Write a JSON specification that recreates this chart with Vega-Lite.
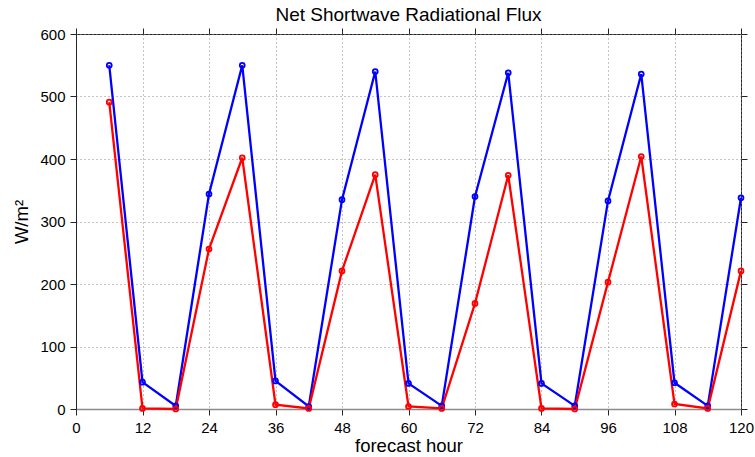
{
  "$schema": "https://vega.github.io/schema/vega-lite/v6.json",
  "width": 665,
  "height": 375,
  "autosize": "none",
  "padding": {"left": 76, "top": 34, "right": 14, "bottom": 48},
  "background": "white",
  "config": {
    "font": "Liberation Sans",
    "view": {"stroke": "#262626", "strokeWidth": 1},
    "axis": {
      "labelFont": "Liberation Sans",
      "titleFont": "Liberation Sans",
      "labelFontSize": 15,
      "titleFontSize": 18.5,
      "titleFontWeight": "normal",
      "labelColor": "black",
      "titleColor": "black",
      "domainColor": "#262626",
      "tickColor": "#262626",
      "tickSize": 6,
      "labelFlush": false,
      "labelOverlap": false,
      "gridColor": "#8a8a8a",
      "gridDash": [1, 3],
      "gridOpacity": 1
    }
  },
  "title": {
    "text": "Net Shortwave Radiational Flux",
    "font": "Liberation Sans",
    "fontSize": 19,
    "fontWeight": "normal",
    "color": "black",
    "offset": 2
  },
  "data": {
    "values": [
      {"hour": 6, "flux": 550, "series": "run_a"},
      {"hour": 12, "flux": 43, "series": "run_a"},
      {"hour": 18, "flux": 5, "series": "run_a"},
      {"hour": 24, "flux": 344, "series": "run_a"},
      {"hour": 30, "flux": 550, "series": "run_a"},
      {"hour": 36, "flux": 45, "series": "run_a"},
      {"hour": 42, "flux": 4, "series": "run_a"},
      {"hour": 48, "flux": 335, "series": "run_a"},
      {"hour": 54, "flux": 540, "series": "run_a"},
      {"hour": 60, "flux": 41, "series": "run_a"},
      {"hour": 66, "flux": 5, "series": "run_a"},
      {"hour": 72, "flux": 340, "series": "run_a"},
      {"hour": 78, "flux": 538, "series": "run_a"},
      {"hour": 84, "flux": 41, "series": "run_a"},
      {"hour": 90, "flux": 5, "series": "run_a"},
      {"hour": 96, "flux": 333, "series": "run_a"},
      {"hour": 102, "flux": 536, "series": "run_a"},
      {"hour": 108, "flux": 42, "series": "run_a"},
      {"hour": 114, "flux": 5, "series": "run_a"},
      {"hour": 120, "flux": 338, "series": "run_a"},
      {"hour": 6, "flux": 491, "series": "run_b"},
      {"hour": 12, "flux": 1, "series": "run_b"},
      {"hour": 18, "flux": 0, "series": "run_b"},
      {"hour": 24, "flux": 256, "series": "run_b"},
      {"hour": 30, "flux": 402, "series": "run_b"},
      {"hour": 36, "flux": 7, "series": "run_b"},
      {"hour": 42, "flux": 1, "series": "run_b"},
      {"hour": 48, "flux": 221, "series": "run_b"},
      {"hour": 54, "flux": 375, "series": "run_b"},
      {"hour": 60, "flux": 4, "series": "run_b"},
      {"hour": 66, "flux": 1, "series": "run_b"},
      {"hour": 72, "flux": 169, "series": "run_b"},
      {"hour": 78, "flux": 374, "series": "run_b"},
      {"hour": 84, "flux": 1, "series": "run_b"},
      {"hour": 90, "flux": 0, "series": "run_b"},
      {"hour": 96, "flux": 203, "series": "run_b"},
      {"hour": 102, "flux": 404, "series": "run_b"},
      {"hour": 108, "flux": 8, "series": "run_b"},
      {"hour": 114, "flux": 1, "series": "run_b"},
      {"hour": 120, "flux": 221, "series": "run_b"}
    ]
  },
  "layer": [
    {
      "mark": {"type": "line", "strokeWidth": 2.3, "point": {"filled": false, "size": 24, "strokeWidth": 1.8}},
      "encoding": {
        "x": {
          "field": "hour", "type": "quantitative",
          "scale": {"domain": [0, 120], "nice": false},
          "axis": {"values": [0, 12, 24, 36, 48, 60, 72, 84, 96, 108, 120], "title": "forecast hour", "titlePadding": 1, "labelPadding": 5, "domainColor": "#8c8c8c", "domainWidth": 1.5}
        },
        "y": {
          "field": "flux", "type": "quantitative",
          "scale": {"domain": [0, 600], "nice": false},
          "axis": {"values": [0, 100, 200, 300, 400, 500, 600], "title": "W/m²", "titlePadding": 8, "labelPadding": 5}
        },
        "color": {
          "field": "series", "type": "nominal",
          "scale": {"domain": ["run_a", "run_b"], "range": ["#0000ff", "#ff0000"]},
          "legend": null
        },
        "order": {"field": "hour"}
      }
    },
    {
      "mark": {"type": "rule", "opacity": 0},
      "encoding": {
        "x": {
          "field": "hour", "type": "quantitative",
          "scale": {"domain": [0, 120], "nice": false},
          "axis": {"orient": "top", "values": [0, 12, 24, 36, 48, 60, 72, 84, 96, 108, 120], "labels": false, "title": null, "grid": false, "domain": false}
        },
        "y": {
          "field": "flux", "type": "quantitative",
          "scale": {"domain": [0, 600], "nice": false},
          "axis": {"orient": "right", "values": [0, 100, 200, 300, 400, 500, 600], "labels": false, "title": null, "grid": false, "domain": false}
        }
      }
    }
  ],
  "resolve": {"axis": {"x": "independent", "y": "independent"}}
}
